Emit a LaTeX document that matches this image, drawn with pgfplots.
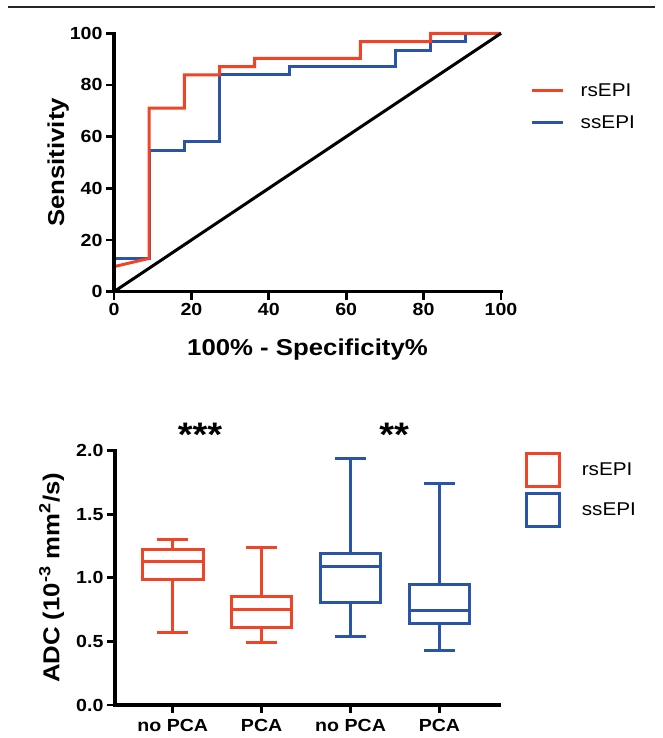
\documentclass[border=0pt]{standalone}
\usepackage{fontspec}
\setmainfont{Liberation Sans}[FakeStretch=1.12]
\usepackage{pgfplots}
\pgfplotsset{compat=1.18}
\usepgfplotslibrary{statistics}

\definecolor{rsred}{RGB}{240,68,40}
\definecolor{ssblue}{RGB}{42,84,168}

\tikzset{
  heavy/.style={line width=3.4pt, black, line cap=rect, line join=miter},
  tk/.style={line width=2.8pt, black},
}
\pgfplotsset{
  panel/.style={
    scale only axis, clip=false,
    axis lines=left,
    axis line style={-},
    tick align=outside, major tick length=8pt,
    tick label style={font=\fontsize{17.5}{17.5}\selectfont\bfseries},
    label style={font=\fontsize{23}{23}\selectfont\bfseries},
    /pgf/number format/assume math mode=true,
    legend style={draw=none, fill=none, inner sep=0pt, anchor=north west,
      font=\fontsize{18.5}{18.5}\selectfont, cells={anchor=west}},
  },
}

\begin{document}
\begin{tikzpicture}
\useasboundingbox (0pt,0pt) rectangle (663pt,738pt);
\draw[line width=2.5pt, black!85] (8pt,731pt) -- (655pt,731pt);

% ROC curves
\begin{axis}[panel,
  at={(114pt,446.3pt)}, anchor=south west,
  width=387pt, height=258.4pt,
  xmin=0, xmax=100, ymin=0, ymax=100,
  xtick={0,20,...,100}, ytick={0,20,...,100},
  xlabel={100\% - Specificity\%}, ylabel={Sensitivity},
  xlabel style={at={(axis description cs:0.5,-0.245)}, anchor=base},
  ylabel style={at={(axis description cs:-0.129,0.5)}, anchor=base},
  legend style={at={(1.075,0.8135)}, row sep=13.4pt},
  legend image code/.code={\draw[#1] (0pt,0pt) -- (31pt,0pt); \path[draw=none] (31pt,0pt) -- (47pt,0pt);},
]
  \addplot[ssblue, line width=3pt, forget plot] coordinates {
    (0,0) (0,12.9) (9.09,12.9) (9.09,54.8) (18.18,54.8) (18.18,58.1)
    (27.27,58.1) (27.27,83.9) (45.45,83.9) (45.45,87.1) (72.73,87.1)
    (72.73,93.5) (81.82,93.5) (81.82,96.8) (90.91,96.8) (90.91,100) (100,100)};
  \addplot[rsred, line width=3pt, forget plot] coordinates {
    (0,0) (0,9.7) (9.09,12.9) (9.09,71.0) (18.18,71.0) (18.18,83.9)
    (27.27,83.9) (27.27,87.1) (36.36,87.1) (36.36,90.3) (63.64,90.3)
    (63.64,96.8) (81.82,96.8) (81.82,100) (100,100)};
  \addplot[black, line width=3pt, forget plot] coordinates {(0,0) (100,100)};
  \addlegendimage{rsred, line width=3pt}
  \addlegendentry{rsEPI}
  \addlegendimage{ssblue, line width=3pt}
  \addlegendentry{ssEPI}
  % heavy axis lines and ticks
  \draw[heavy] (rel axis cs:0,1) -- (rel axis cs:0,0) -- (rel axis cs:1,0);
  \pgfplotsinvokeforeach{0,20,40,60,80,100}{
    \draw[tk] (axis cs:#1,0) -- ++(0pt,-8pt);
    \draw[tk] (axis cs:0,#1) -- ++(-8pt,0pt);
  }
\end{axis}

% ADC box plots
\begin{axis}[panel,
  at={(115pt,33pt)}, anchor=south west,
  width=384pt, height=254.3pt,
  xmin=0.35, xmax=4.67, ymin=0, ymax=2,
  boxplot/draw direction=y,
  xtick={1,2,3,4}, xticklabels={no PCA,PCA,no PCA,PCA},
  xticklabel style={yshift=-3pt},
  ytick={0,0.5,...,2},
  yticklabel style={/pgf/number format/.cd, fixed, fixed zerofill, precision=1},
  ylabel={ADC (10\textsuperscript{-3} mm\textsuperscript{2}/s)},
  ylabel style={at={(axis description cs:-0.145,0.5)}, anchor=base},
  legend style={at={(1.068,0.995)}, row sep=4pt},
  legend image code/.code={\draw[#1] (0pt,-16.5pt) rectangle (33pt,16.5pt); \path[draw=none] (33pt,0pt) -- (53pt,0pt);},
]
  \addplot[rsred, line width=3pt, forget plot, boxplot prepared={draw position=1,
    lower whisker=0.57, lower quartile=0.99, median=1.13, upper quartile=1.22,
    upper whisker=1.30, box extend=0.68, whisker extend=0.35}] coordinates {};
  \addplot[rsred, line width=3pt, forget plot, boxplot prepared={draw position=2,
    lower whisker=0.49, lower quartile=0.61, median=0.75, upper quartile=0.85,
    upper whisker=1.24, box extend=0.68, whisker extend=0.35}] coordinates {};
  \addplot[ssblue, line width=3pt, forget plot, boxplot prepared={draw position=3,
    lower whisker=0.54, lower quartile=0.81, median=1.09, upper quartile=1.19,
    upper whisker=1.94, box extend=0.68, whisker extend=0.35}] coordinates {};
  \addplot[ssblue, line width=3pt, forget plot, boxplot prepared={draw position=4,
    lower whisker=0.43, lower quartile=0.64, median=0.74, upper quartile=0.95,
    upper whisker=1.74, box extend=0.68, whisker extend=0.35}] coordinates {};
  \addlegendimage{rsred, line width=3pt}
  \addlegendentry{rsEPI}
  \addlegendimage{ssblue, line width=3pt}
  \addlegendentry{ssEPI}
  \draw[heavy] (rel axis cs:0,1) -- (rel axis cs:0,0) -- (rel axis cs:1,0);
  \pgfplotsinvokeforeach{1,2,3,4}{\draw[tk] (axis cs:#1,0) -- ++(0pt,-8pt);}
  \pgfplotsinvokeforeach{0,0.5,1,1.5,2}{\draw[tk] (axis cs:0.35,#1) -- ++(-8pt,0pt);}
  \node[font=\fontsize{34}{34}\selectfont\bfseries, anchor=base] at (axis cs:1.306,2.03) {***};
  \node[font=\fontsize{34}{34}\selectfont\bfseries, anchor=base] at (axis cs:3.49,2.03) {**};
\end{axis}
\end{tikzpicture}
\end{document}
